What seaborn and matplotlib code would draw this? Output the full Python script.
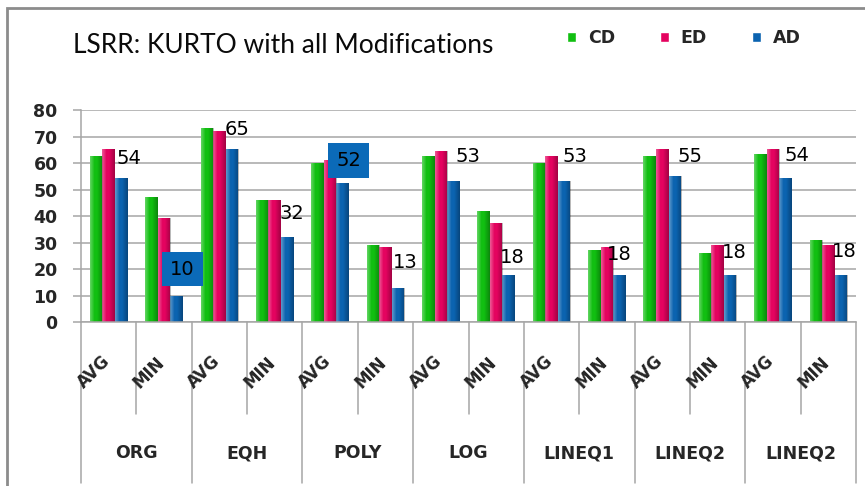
import matplotlib
matplotlib.use("Agg")
import matplotlib.pyplot as plt
from matplotlib.patches import Patch, Rectangle
import numpy as np
import pandas as pd
import seaborn as sns

# data
groups = ["ORG", "EQH", "POLY", "LOG", "LINEQ1", "LINEQ2", "LINEQ2"]
stats = ["AVG", "MIN"]
methods = ["CD", "ED", "AD"]

cd = [62.5, 47.1, 73.2, 46.1, 60.2, 29.1, 62.5, 42.1, 60.2, 27.1, 62.5, 26.1, 63.5, 31.1]
ed = [65.4, 39.3, 72.2, 46.1, 61.1, 28.2, 64.4, 37.3, 62.5, 28.2, 65.4, 29.1, 65.4, 29.1]
ad = [54.4, 9.9, 65.4, 32.1, 52.4, 13.0, 53.4, 17.9, 53.4, 17.9, 55.3, 17.9, 54.4, 17.9]

colors = {"CD": "#11bf11", "ED": "#e4035f", "AD": "#0b63b0"}

# hand-placed label offsets (pixels) relative to the top of each AD bar
label_offsets = [(8, 19), (6, 27), (5, 19), (5, 24), (6, 23), (7, 25), (15, 24),
                 (4, 17), (11, 24), (0, 20), (15, 19), (4, 22), (11, 22), (3, 23)]
boxed = [1, 4]

slots = []
slot_stat = []
for g in groups:
    for s in stats:
        slots.append(f"{g}-{s}-{len(slots)}")
        slot_stat.append(s)

rows = []
for m, vals in zip(methods, [cd, ed, ad]):
    for sl, v in zip(slots, vals):
        rows.append({"slot": sl, "method": m, "value": v})
df = pd.DataFrame(rows)

sns.set_style("white")
plt.rcParams["font.family"] = ["DejaVu Sans"]

fig = plt.figure(figsize=(8.65, 4.86), dpi=100)
ax = fig.add_axes([81 / 865, 1 - 322.3 / 486, 775 / 865, 212.3 / 486])

sns.barplot(data=df, x="slot", y="value", hue="method", order=slots,
            hue_order=methods, palette=colors, width=0.68, errorbar=None,
            legend=False, linewidth=0, saturation=1, ax=ax)

# cylinder-like shading on every bar
shade = np.zeros((1, 64, 4))
t = np.linspace(0, 1, 64)
light = np.clip(1 - t / 0.35, 0, 1) * 0.35
dark = np.clip((t - 0.55) / 0.45, 0, 1) * 0.3
shade[0, :, :3] = np.where(light[:, None] > 0, 1.0, 0.0)
shade[0, :, 3] = light + dark
for bar in list(ax.patches):
    x0 = bar.get_x()
    im = ax.imshow(shade, extent=[x0, x0 + bar.get_width(), 0, bar.get_height()],
                   aspect="auto", zorder=bar.get_zorder() + 0.1,
                   interpolation="bilinear")
    im.set_clip_path(bar)

ax.set_xlim(-0.5, len(slots) - 0.5)
ax.set_ylim(0, 80)
ax.set_yticks(range(0, 81, 10))
ax.set_xticks([])
ax.set_xlabel("")
ax.set_ylabel("")
ax.yaxis.grid(True, color="#a6a6a6", lw=1.1)
ax.set_axisbelow(True)
for side in ["top", "right"]:
    ax.spines[side].set_visible(False)
for side in ["left", "bottom"]:
    ax.spines[side].set_color("#a6a6a6")
    ax.spines[side].set_linewidth(1.1)
ax.tick_params(axis="y", length=5.8, width=1.1, color="#a6a6a6", pad=11,
               labelsize=12.5, left=True)
for lbl in ax.get_yticklabels():
    lbl.set_fontweight("bold")

# value labels on the AD bars
for bar in ax.containers[2]:
    cx = bar.get_x() + bar.get_width() / 2
    i = int(round(cx))
    dx, dy = label_offsets[i]
    box = None
    if i in boxed:
        box = dict(boxstyle="square,pad=0.4", fc="#0b6ab8", ec="none")
    ax.annotate(f"{ad[i]:.0f}", (cx, bar.get_height()), xytext=(dx, dy),
                textcoords="offset pixels", ha="center", va="center",
                fontsize=14, color="black", bbox=box, zorder=5)

# two-level category axis
trans = ax.get_xaxis_transform()
for i, s in enumerate(slot_stat):
    ax.text(i - 0.27, -0.235, s, transform=trans, rotation=45,
            rotation_mode="anchor", ha="center", va="center",
            fontsize=12, fontweight="bold")
for k, g in enumerate(groups):
    ax.text(2 * k + 0.5, -0.616, g, transform=trans, ha="center", va="center",
            fontsize=12.5, fontweight="bold")
for b in range(len(slots) + 1):
    low = -0.757 if b % 2 == 0 else -0.432
    ax.plot([b - 0.5, b - 0.5], [0, low], transform=trans, clip_on=False,
            color="#a6a6a6", lw=1.1)

fig.text(73 / 865, 1 - 53 / 486, "LSRR: KURTO with all Modifications",
         fontsize=19, color="#0a0a0a", ha="left", va="baseline",
         family=["Lato", "DejaVu Sans"])

handles = [Patch(facecolor=colors[m], label=m) for m in methods]
fig.legend(handles=handles, loc="center left", ncol=3, frameon=False,
           bbox_to_anchor=(567 / 865, 1 - 38 / 486), borderpad=0,
           borderaxespad=0, handlelength=0.52, handleheight=0.52,
           handletextpad=0.67, columnspacing=2.6,
           prop={"size": 12.5, "weight": "bold"})

fig.patches.append(Rectangle((7 / 865, -0.1), 1.2, 1.1 - 8 / 486, fill=False,
                             ec="#8c8c8c", lw=2, transform=fig.transFigure))

fig.savefig("out.png", dpi=100)
